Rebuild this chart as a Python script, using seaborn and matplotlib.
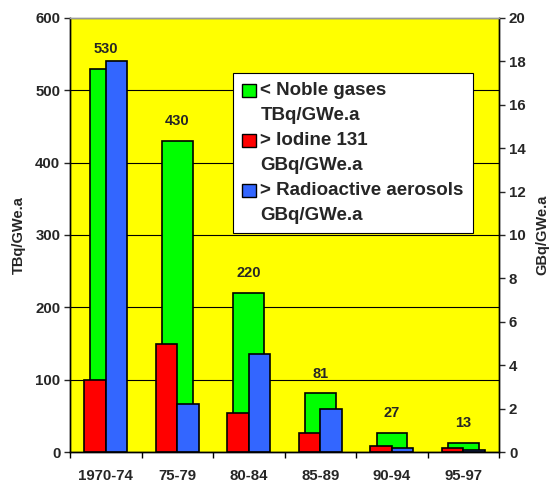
import pandas as pd
import seaborn as sns
import matplotlib.pyplot as plt
from matplotlib.patches import Rectangle
from matplotlib.legend_handler import HandlerPatch
from matplotlib.ticker import FixedLocator

periods = ["1970-74", "75-79", "80-84", "85-89", "90-94", "95-97"]
noble_gases = [530, 430, 220, 81, 27, 13]          # TBq/GWe.a (left axis)
iodine_131 = [3.3, 5.0, 1.8, 0.9, 0.3, 0.2]        # GBq/GWe.a (right axis)
aerosols = [18.0, 2.2, 4.5, 2.0, 0.2, 0.1]         # GBq/GWe.a (right axis)

GREEN = "#00FF00"
RED = "#FF0000"
BLUE = "#3366FF"
YELLOW = "#FFFF00"


def top_square(legend, orig_handle, xdescent, ydescent, width, height, fontsize):
    # put the square next to the first line of the two-line label
    return Rectangle((-xdescent, -ydescent + 9.0), width, height)


def main():
    sns.set_style("ticks")
    plt.rcParams["font.family"] = ["Liberation Sans", "DejaVu Sans"]
    plt.rcParams["font.weight"] = "bold"

    df_green = pd.DataFrame({"period": periods, "value": noble_gases})
    df_gbq = pd.DataFrame({
        "period": periods * 2,
        "value": iodine_131 + aerosols,
        "series": ["> Iodine 131\nGBq/GWe.a"] * len(periods)
                  + ["> Radioactive aerosols\nGBq/GWe.a"] * len(periods),
    })

    fig = plt.figure(figsize=(5.51, 4.84), dpi=100)
    ax1 = fig.add_axes([0.127, 0.066, 0.779, 0.897])
    ax1.set_facecolor(YELLOW)

    sns.barplot(data=df_green, x="period", y="value", color=GREEN,
                saturation=1, width=0.43, edgecolor="black", linewidth=1.2,
                ax=ax1, zorder=2)
    ax1.bar_label(ax1.containers[0], padding=9, fontsize=10.5,
                  fontweight="bold")

    ax2 = ax1.twinx()
    sns.barplot(data=df_gbq, x="period", y="value", hue="series",
                palette=[RED, BLUE], saturation=1, width=0.6,
                edgecolor="black", linewidth=1.2, ax=ax2, legend=False)

    ax1.set_xlim(-0.5, 5.5)
    ax1.set_ylim(0, 600)
    ax2.set_ylim(0, 20)
    ax1.set_yticks(range(0, 601, 100))
    ax2.set_yticks(range(0, 21, 2))

    ax1.yaxis.grid(True, color="black", linewidth=0.8)
    ax1.set_axisbelow(True)

    ax1.set_xlabel("")
    ax2.set_xlabel("")
    ax1.set_ylabel("TBq/GWe.a", fontsize=10.5, fontweight="bold", labelpad=7)
    ax2.set_ylabel("GBq/GWe.a", fontsize=10.5, fontweight="bold", labelpad=7)

    ax1.tick_params(axis="x", which="major", length=0, pad=12, labelsize=10.8)
    ax1.xaxis.set_minor_locator(FixedLocator([i - 0.5 for i in range(7)]))
    ax1.tick_params(axis="x", which="minor", length=4, width=1, color="black")
    ax1.tick_params(axis="y", length=4, width=1, labelsize=10.8, pad=3)
    ax2.tick_params(axis="y", length=4, width=1, labelsize=10.8, pad=3)
    for lab in ax1.get_xticklabels() + ax1.get_yticklabels() + ax2.get_yticklabels():
        lab.set_fontweight("bold")

    for ax in (ax1, ax2):
        for side in ("left", "right", "bottom"):
            ax.spines[side].set_visible(True)
            ax.spines[side].set_color("black")
            ax.spines[side].set_linewidth(1)
        ax.spines["top"].set_visible(True)
        ax.spines["top"].set_color("#999999")
        ax.spines["top"].set_linewidth(1)

    handles = [Rectangle((0, 0), 1, 1, facecolor=c, edgecolor="black", linewidth=1)
               for c in (GREEN, RED, BLUE)]
    labels = ["< Noble gases\nTBq/GWe.a", "> Iodine 131\nGBq/GWe.a",
              "> Radioactive aerosols\nGBq/GWe.a"]
    leg = ax2.legend(handles, labels, loc="upper left",
                     bbox_to_anchor=(0.38, 0.873), borderaxespad=0,
                     prop={"size": 13.5, "weight": "bold"},
                     handlelength=0.7, handleheight=0.7, handletextpad=0.25,
                     labelspacing=0.42, borderpad=0.5, fancybox=False,
                     framealpha=1, edgecolor="black",
                     handler_map={Rectangle: HandlerPatch(patch_func=top_square)})
    leg.get_frame().set_linewidth(0.8)
    for t in leg.get_texts():
        t.set_linespacing(1.6)

    fig.savefig("out.png", dpi=100)


if __name__ == "__main__":
    main()
